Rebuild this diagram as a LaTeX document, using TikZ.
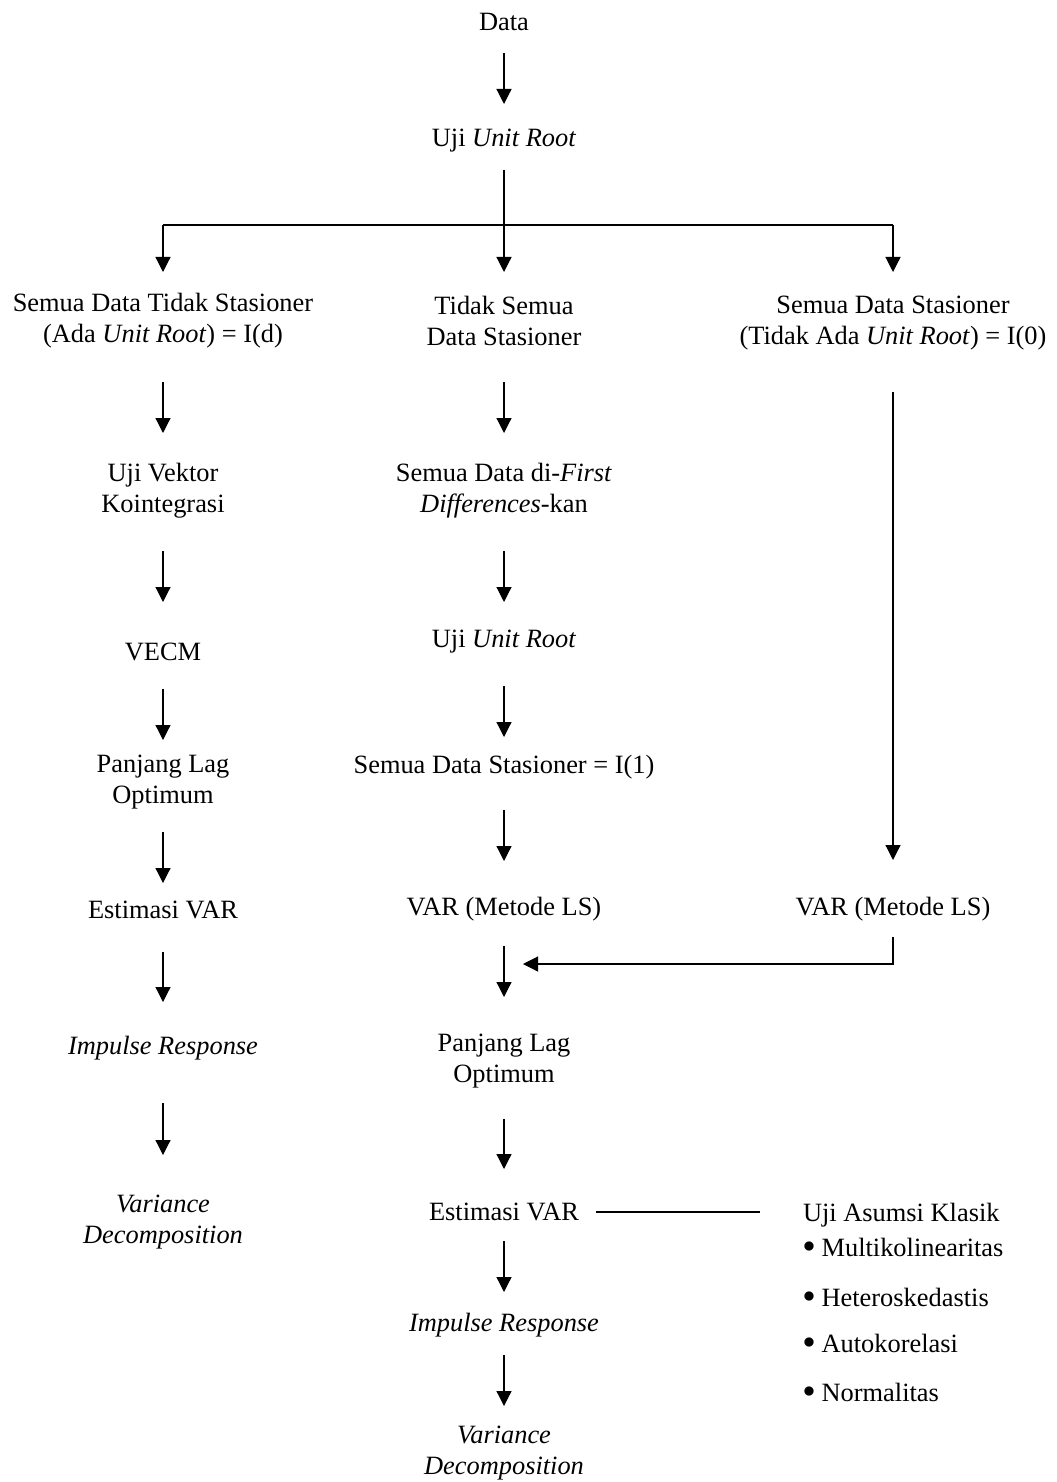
\documentclass[tikz,border=0pt]{standalone}
\usepackage{fontspec}
\setmainfont{Liberation Serif}
\usetikzlibrary{arrows.meta,calc}
\newcommand{\blt}{\raisebox{0.12em}{$\bullet$}\ }
\begin{document}
\begin{tikzpicture}[x=0.5pt,y=-0.5pt,
  every node/.style={inner sep=0pt, outer sep=0pt, align=center,
    font=\fontsize{13.2pt}{15.5pt}\selectfont},
  lbl/.style={anchor=center},
  lst/.style={anchor=west},
  ln/.style={line width=0.6pt},
  arr/.style={ln, -{Triangle[length=7.5pt,width=7.5pt]}}]
\useasboundingbox (0,0) rectangle (1056,1482);

% top
\node[lbl] (data) at (504,22) {Data};
\node[lbl] (uji1) at (504,141) {Uji \textit{Unit Root}};

% row 3
\node[lbl] (l3) at (163,321) {Semua Data Tidak Stasioner\\(Ada \textit{Unit Root}) = I(d)};
\node[lbl] (m3) at (504,321) {Tidak Semua\\Data Stasioner};
\node[lbl] (r3) at (893,323) {Semua Data Stasioner\\(Tidak Ada \textit{Unit Root}) = I(0)};

% left column
\node[lbl] (l4) at (163,491) {Uji Vektor\\Kointegrasi};
\node[lbl] (l5) at (163,652) {VECM};
\node[lbl] (l6) at (163,782) {Panjang Lag\\Optimum};
\node[lbl] (l7) at (163,910) {Estimasi VAR};
\node[lbl] (l8) at (163,1048) {\textit{Impulse Response}};
\node[lbl] (l9) at (163,1222) {\textit{Variance}\\\textit{Decomposition}};

% middle column
\node[lbl] (m4) at (504,491) {Semua Data di-\textit{First}\\\textit{Differences}-kan};
\node[lbl] (m5) at (504,642) {Uji \textit{Unit Root}};
\node[lbl] (m6) at (504,767) {Semua Data Stasioner = I(1)};
\node[lbl] (m7) at (504,909) {VAR (Metode LS)};
\node[lbl] (m8) at (504,1061) {Panjang Lag\\Optimum};
\node[lbl] (m9) at (504,1212) {Estimasi VAR};
\node[lbl] (m10) at (504,1325) {\textit{Impulse Response}};
\node[lbl] (m11) at (504,1453) {\textit{Variance}\\\textit{Decomposition}};

% right column
\node[lbl] (r4) at (893,909) {VAR (Metode LS)};

% classical assumptions
\node[lst] (ua) at (803,1215) {Uji Asumsi Klasik};
\node[lst] (b1) at (803,1247) {\blt Multikolinearitas};
\node[lst] (b2) at (803,1297) {\blt Heteroskedastis};
\node[lst] (b3) at (803,1343) {\blt Autokorelasi};
\node[lst] (b4) at (803,1392) {\blt Normalitas};

% connectors: top
\draw[arr] (data |- 0,53) -- (data |- 0,104);
\draw[arr] (uji1 |- 0,170) -- (m3 |- 0,272);
\draw[ln] (l3 |- 0,225) -- (r3 |- 0,225);
\draw[arr] (l3 |- 0,225) -- (l3 |- 0,272);
\draw[arr] (r3 |- 0,225) -- (r3 |- 0,272);

% left column arrows
\draw[arr] (l3 |- 0,382) -- (l4 |- 0,433);
\draw[arr] (l4 |- 0,551) -- (l5 |- 0,602);
\draw[arr] (l5 |- 0,689) -- (l6 |- 0,740);
\draw[arr] (l6 |- 0,832) -- (l7 |- 0,883);
\draw[arr] (l7 |- 0,952) -- (l8 |- 0,1002);
\draw[arr] (l8 |- 0,1103) -- (l9 |- 0,1155);

% middle column arrows
\draw[arr] (m3 |- 0,382) -- (m4 |- 0,433);
\draw[arr] (m4 |- 0,551) -- (m5 |- 0,602);
\draw[arr] (m5 |- 0,686) -- (m6 |- 0,737);
\draw[arr] (m6 |- 0,810) -- (m7 |- 0,861);
\draw[arr] (m7 |- 0,946) -- (m8 |- 0,997);
\draw[arr] (m8 |- 0,1119) -- (m9 |- 0,1169);
\draw[arr] (m9 |- 0,1241) -- (m10 |- 0,1292);
\draw[arr] (m10 |- 0,1355) -- (m11 |- 0,1406);

% right column
\draw[arr] (r3 |- 0,392) -- (r4 |- 0,860);
\draw[arr] (r4 |- 0,937) -- (r4 |- 0,964) -- ($(m7 |- 0,964)+(19,0)$);

% Estimasi VAR -- Uji Asumsi Klasik
\draw[ln] ($(m9.east)+(17,0)$) -- ($(m9.east -| ua.west)+(-43,0)$);
\end{tikzpicture}
\end{document}
